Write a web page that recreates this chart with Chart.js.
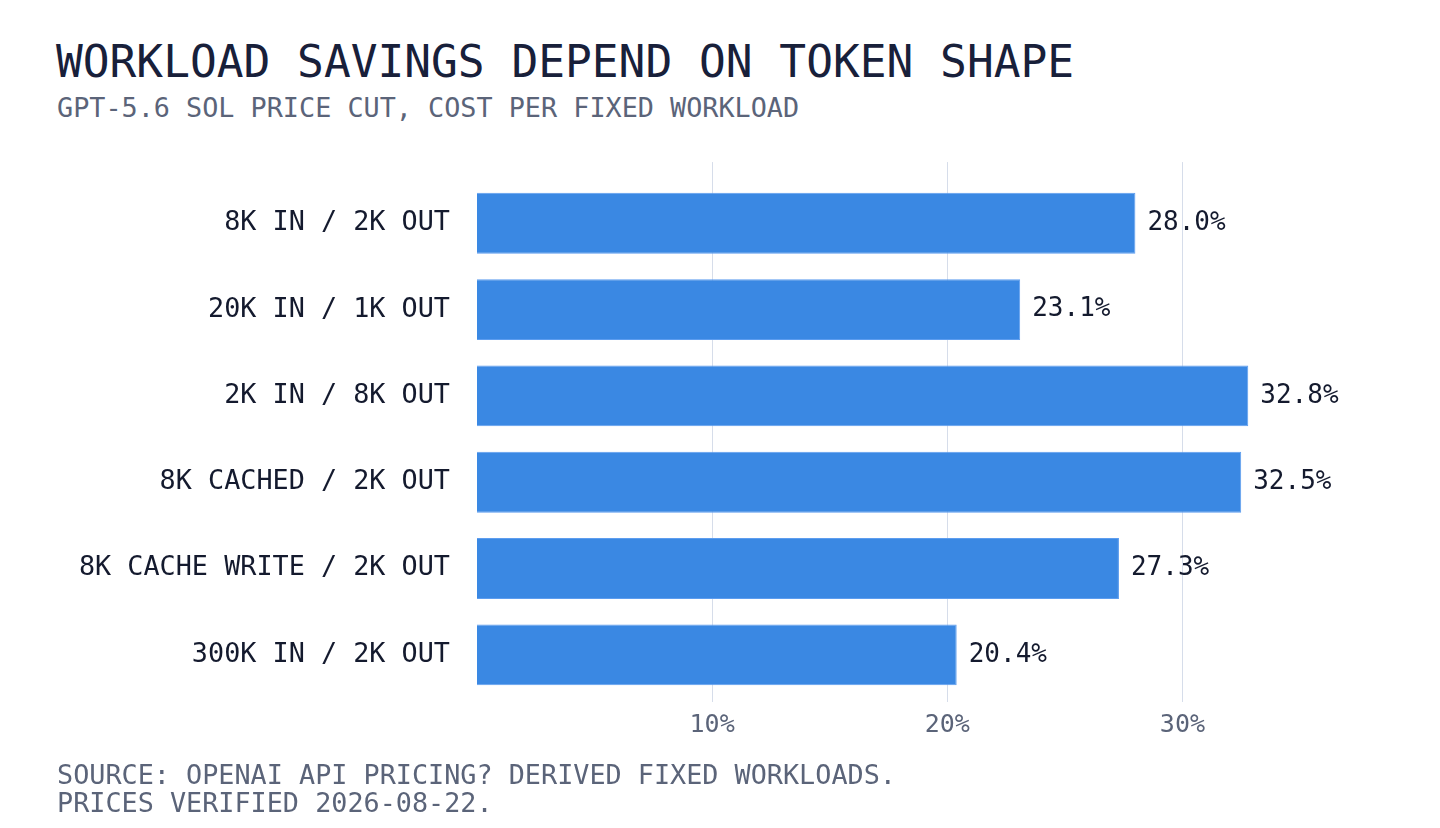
<!DOCTYPE html>
<html>
<head>
<meta charset="utf-8">
<script src="https://cdn.jsdelivr.net/npm/chart.js@4.4.1/dist/chart.umd.min.js"></script>
<style>
  html, body { margin: 0; padding: 0; background: #fff; }
  body { width: 1440px; height: 828px; position: relative; overflow: hidden; font-family: "DejaVu Sans Mono", "Liberation Mono", monospace; }
  .titulo { position: absolute; left: 56px; top: 40px; font-size: 44.5px; line-height: 1; color: #18203a; white-space: nowrap; }
  .subtitulo { position: absolute; left: 57px; top: 95px; font-size: 26.8px; line-height: 1; color: #5b6479; white-space: nowrap; }
  .fonte { position: absolute; left: 57px; top: 761px; font-size: 26.8px; line-height: 28px; color: #5b6479; white-space: nowrap; }
  .grafico { position: absolute; left: 0; top: 137px; width: 1440px; height: 623px; }
</style>
</head>
<body>
<div class="titulo">WORKLOAD SAVINGS DEPEND ON TOKEN SHAPE</div>
<div class="subtitulo">GPT-5.6 SOL PRICE CUT, COST PER FIXED WORKLOAD</div>
<div class="grafico"><canvas id="grafico"></canvas></div>
<div class="fonte">SOURCE: OPENAI API PRICING? DERIVED FIXED WORKLOADS.<br>PRICES VERIFIED 2026-08-22.</div>
<script>
const categorias = ['8K IN / 2K OUT', '20K IN / 1K OUT', '2K IN / 8K OUT', '8K CACHED / 2K OUT', '8K CACHE WRITE / 2K OUT', '300K IN / 2K OUT'];
const economia = [28.0, 23.1, 32.8, 32.5, 27.3, 20.4];
const marcasX = [10, 20, 30];

const fonte = '"DejaVu Sans Mono", "Liberation Mono", monospace';

// linhas de grade um pouco mais altas que a área do gráfico
const gradePlugin = {
    id: 'grade',
    beforeDatasetsDraw(chart) {
        const { ctx, chartArea, scales } = chart;
        ctx.save();
        ctx.strokeStyle = '#d6ddea';
        ctx.lineWidth = 1;
        marcasX.forEach((v) => {
            const x = Math.round(scales.x.getPixelForValue(v)) + 0.5;
            ctx.beginPath();
            ctx.moveTo(x, chartArea.top - 18);
            ctx.lineTo(x, chartArea.bottom + 4);
            ctx.stroke();
        });
        ctx.restore();
    }
};

const rotulosPlugin = {
    id: 'rotulos',
    afterDatasetsDraw(chart) {
        const { ctx } = chart;
        const meta = chart.getDatasetMeta(0);
        ctx.save();
        ctx.font = '26px ' + fonte;
        ctx.fillStyle = '#141a2e';
        ctx.textAlign = 'left';
        ctx.textBaseline = 'middle';
        meta.data.forEach((barra, i) => {
            ctx.fillText(economia[i].toFixed(1) + '%', barra.x + 12, barra.y);
        });
        ctx.restore();
    }
};

new Chart(document.getElementById('grafico'), {
    type: 'bar',
    data: {
        labels: categorias,
        datasets: [{
            data: economia,
            backgroundColor: '#3a88e3',
            borderColor: '#5d9def',
            borderWidth: 1,
            categoryPercentage: 1,
            barPercentage: 0.705
        }]
    },
    options: {
        indexAxis: 'y',
        responsive: true,
        maintainAspectRatio: false,
        animation: false,
        layout: { padding: { top: 43, right: 140, left: 0, bottom: 0 } },
        plugins: {
            legend: { display: false },
            tooltip: { enabled: false }
        },
        scales: {
            x: {
                min: 0,
                max: 35,
                afterBuildTicks: (s) => { s.ticks = marcasX.map((v) => ({ value: v })); },
                afterFit: (s) => { s.height = 62; },
                grid: { display: false, drawTicks: false },
                border: { display: false },
                ticks: {
                    padding: 12,
                    color: '#5b6479',
                    font: { family: fonte, size: 25 },
                    callback: (v) => v + '%'
                }
            },
            y: {
                afterFit: (s) => { s.width = 477; },
                grid: { display: false, drawTicks: false },
                border: { display: false },
                ticks: {
                    padding: 27,
                    color: '#141a2e',
                    font: { family: fonte, size: 26.8 }
                }
            }
        }
    },
    plugins: [gradePlugin, rotulosPlugin]
});
</script>
</body>
</html>
